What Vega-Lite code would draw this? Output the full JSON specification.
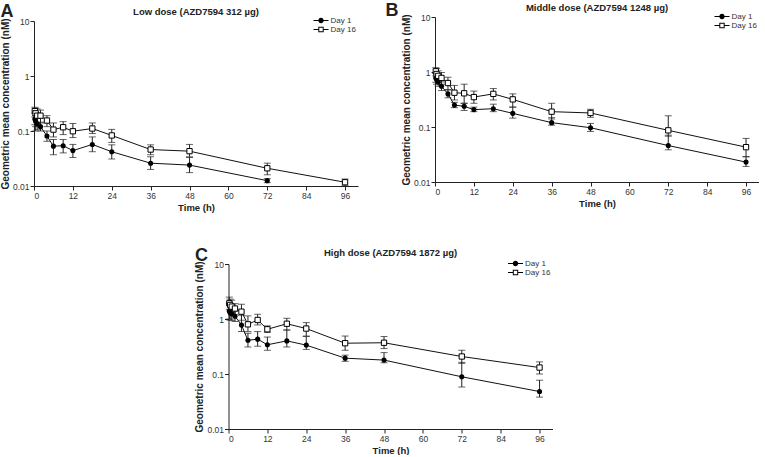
{
  "$schema": "https://vega.github.io/schema/vega-lite/v6.json",
  "padding": {"left": 0, "top": -2, "right": 0, "bottom": 0},
  "config": {
    "font": "Liberation Sans",
    "view": {"stroke": null},
    "axis": {"grid": false, "domainColor": "#222", "tickColor": "#222", "labelColor": "#333", "titleColor": "#222", "labelFontSize": 8.5, "titleFontSize": 10, "titleFontWeight": "bold", "tickSize": 4, "labelPadding": 1},
    "title": {"fontSize": 9.5, "fontWeight": "bold", "color": "#222"},
    "legend": {"labelFontSize": 8, "labelColor": "#333", "title": null, "orient": "none", "legendX": 282.5, "legendY": -5, "padding": 0, "symbolSize": 81, "labelOffset": 5, "rowPadding": 0, "symbolFillColor": "black", "symbolStrokeWidth": 0}
  },
  "datasets": {
    "pk": [
      {"p":"A","day":"Day 1","t":0.25,"v":0.165,"lo":0.13,"hi":0.21},
      {"p":"A","day":"Day 1","t":0.5,"v":0.15,"lo":0.12,"hi":0.19},
      {"p":"A","day":"Day 1","t":1,"v":0.135,"lo":0.105,"hi":0.17},
      {"p":"A","day":"Day 1","t":2,"v":0.12,"lo":0.1,"hi":0.145},
      {"p":"A","day":"Day 1","t":4,"v":0.081,"lo":0.065,"hi":0.1},
      {"p":"A","day":"Day 1","t":6,"v":0.053,"lo":0.037,"hi":0.07},
      {"p":"A","day":"Day 1","t":9,"v":0.054,"lo":0.04,"hi":0.07},
      {"p":"A","day":"Day 1","t":12,"v":0.044,"lo":0.033,"hi":0.057},
      {"p":"A","day":"Day 1","t":18,"v":0.057,"lo":0.042,"hi":0.078},
      {"p":"A","day":"Day 1","t":24,"v":0.042,"lo":0.031,"hi":0.056},
      {"p":"A","day":"Day 1","t":36,"v":0.026,"lo":0.02,"hi":0.034},
      {"p":"A","day":"Day 1","t":48,"v":0.024,"lo":0.0175,"hi":0.033},
      {"p":"A","day":"Day 1","t":72,"v":0.0125,"lo":0.0115,"hi":0.0136},
      {"p":"A","day":"Day 16","t":0.25,"v":0.23,"lo":0.18,"hi":0.27},
      {"p":"A","day":"Day 16","t":0.5,"v":0.21,"lo":0.1,"hi":0.26},
      {"p":"A","day":"Day 16","t":1,"v":0.19,"lo":0.14,"hi":0.25},
      {"p":"A","day":"Day 16","t":2,"v":0.19,"lo":0.14,"hi":0.24},
      {"p":"A","day":"Day 16","t":4,"v":0.155,"lo":0.12,"hi":0.19},
      {"p":"A","day":"Day 16","t":6,"v":0.106,"lo":0.078,"hi":0.14},
      {"p":"A","day":"Day 16","t":9,"v":0.117,"lo":0.086,"hi":0.148},
      {"p":"A","day":"Day 16","t":12,"v":0.099,"lo":0.076,"hi":0.137},
      {"p":"A","day":"Day 16","t":18,"v":0.111,"lo":0.09,"hi":0.14},
      {"p":"A","day":"Day 16","t":24,"v":0.083,"lo":0.062,"hi":0.107},
      {"p":"A","day":"Day 16","t":36,"v":0.046,"lo":0.037,"hi":0.056},
      {"p":"A","day":"Day 16","t":48,"v":0.043,"lo":0.034,"hi":0.057},
      {"p":"A","day":"Day 16","t":72,"v":0.021,"lo":0.016,"hi":0.026},
      {"p":"A","day":"Day 16","t":96,"v":0.0117,"lo":0.0101,"hi":0.0134},
      {"p":"B","day":"Day 1","t":0.25,"v":0.79,"lo":0.65,"hi":0.95},
      {"p":"B","day":"Day 1","t":0.5,"v":0.72,"lo":0.6,"hi":0.88},
      {"p":"B","day":"Day 1","t":1,"v":0.66,"lo":0.55,"hi":0.8},
      {"p":"B","day":"Day 1","t":2,"v":0.55,"lo":0.46,"hi":0.66},
      {"p":"B","day":"Day 1","t":4,"v":0.4,"lo":0.34,"hi":0.47},
      {"p":"B","day":"Day 1","t":6,"v":0.25,"lo":0.225,"hi":0.28},
      {"p":"B","day":"Day 1","t":9,"v":0.238,"lo":0.2,"hi":0.27},
      {"p":"B","day":"Day 1","t":12,"v":0.207,"lo":0.19,"hi":0.23},
      {"p":"B","day":"Day 1","t":18,"v":0.215,"lo":0.19,"hi":0.26},
      {"p":"B","day":"Day 1","t":24,"v":0.177,"lo":0.145,"hi":0.23},
      {"p":"B","day":"Day 1","t":36,"v":0.12,"lo":0.108,"hi":0.148},
      {"p":"B","day":"Day 1","t":48,"v":0.097,"lo":0.083,"hi":0.116},
      {"p":"B","day":"Day 1","t":72,"v":0.046,"lo":0.0385,"hi":0.071},
      {"p":"B","day":"Day 1","t":96,"v":0.023,"lo":0.0192,"hi":0.0286},
      {"p":"B","day":"Day 16","t":0.25,"v":1.03,"lo":0.85,"hi":1.2},
      {"p":"B","day":"Day 16","t":0.5,"v":0.92,"lo":0.75,"hi":1.15},
      {"p":"B","day":"Day 16","t":1,"v":0.85,"lo":0.7,"hi":1.05},
      {"p":"B","day":"Day 16","t":2,"v":0.78,"lo":0.6,"hi":0.98},
      {"p":"B","day":"Day 16","t":4,"v":0.63,"lo":0.48,"hi":0.8},
      {"p":"B","day":"Day 16","t":6,"v":0.42,"lo":0.31,"hi":0.57},
      {"p":"B","day":"Day 16","t":9,"v":0.41,"lo":0.27,"hi":0.6},
      {"p":"B","day":"Day 16","t":12,"v":0.35,"lo":0.27,"hi":0.45},
      {"p":"B","day":"Day 16","t":18,"v":0.4,"lo":0.31,"hi":0.5},
      {"p":"B","day":"Day 16","t":24,"v":0.318,"lo":0.23,"hi":0.4},
      {"p":"B","day":"Day 16","t":36,"v":0.19,"lo":0.14,"hi":0.27},
      {"p":"B","day":"Day 16","t":48,"v":0.18,"lo":0.15,"hi":0.21},
      {"p":"B","day":"Day 16","t":72,"v":0.087,"lo":0.068,"hi":0.16},
      {"p":"B","day":"Day 16","t":96,"v":0.043,"lo":0.029,"hi":0.062},
      {"p":"C","day":"Day 1","t":0.25,"v":1.4,"lo":1.0,"hi":1.9},
      {"p":"C","day":"Day 1","t":0.5,"v":1.3,"lo":0.95,"hi":1.75},
      {"p":"C","day":"Day 1","t":1,"v":1.24,"lo":0.95,"hi":1.6},
      {"p":"C","day":"Day 1","t":2,"v":1.12,"lo":0.9,"hi":1.4},
      {"p":"C","day":"Day 1","t":4,"v":0.78,"lo":0.59,"hi":1.17},
      {"p":"C","day":"Day 1","t":6,"v":0.41,"lo":0.31,"hi":0.55},
      {"p":"C","day":"Day 1","t":9,"v":0.43,"lo":0.32,"hi":0.59},
      {"p":"C","day":"Day 1","t":12,"v":0.34,"lo":0.27,"hi":0.47},
      {"p":"C","day":"Day 1","t":18,"v":0.4,"lo":0.31,"hi":0.63},
      {"p":"C","day":"Day 1","t":24,"v":0.335,"lo":0.28,"hi":0.48},
      {"p":"C","day":"Day 1","t":36,"v":0.194,"lo":0.17,"hi":0.22},
      {"p":"C","day":"Day 1","t":48,"v":0.179,"lo":0.16,"hi":0.245},
      {"p":"C","day":"Day 1","t":72,"v":0.089,"lo":0.058,"hi":0.163},
      {"p":"C","day":"Day 1","t":96,"v":0.048,"lo":0.038,"hi":0.077},
      {"p":"C","day":"Day 16","t":0.25,"v":1.93,"lo":1.5,"hi":2.5},
      {"p":"C","day":"Day 16","t":0.5,"v":1.8,"lo":1.4,"hi":2.3},
      {"p":"C","day":"Day 16","t":1,"v":1.68,"lo":1.3,"hi":2.2},
      {"p":"C","day":"Day 16","t":2,"v":1.55,"lo":1.2,"hi":1.9},
      {"p":"C","day":"Day 16","t":4,"v":1.36,"lo":0.95,"hi":1.85},
      {"p":"C","day":"Day 16","t":6,"v":0.8,"lo":0.59,"hi":1.14},
      {"p":"C","day":"Day 16","t":9,"v":0.96,"lo":0.78,"hi":1.22},
      {"p":"C","day":"Day 16","t":12,"v":0.65,"lo":0.57,"hi":0.75},
      {"p":"C","day":"Day 16","t":18,"v":0.82,"lo":0.63,"hi":1.03},
      {"p":"C","day":"Day 16","t":24,"v":0.67,"lo":0.49,"hi":0.86},
      {"p":"C","day":"Day 16","t":36,"v":0.363,"lo":0.27,"hi":0.49},
      {"p":"C","day":"Day 16","t":48,"v":0.37,"lo":0.29,"hi":0.48},
      {"p":"C","day":"Day 16","t":72,"v":0.208,"lo":0.156,"hi":0.27},
      {"p":"C","day":"Day 16","t":96,"v":0.131,"lo":0.1,"hi":0.166}
    ]
  },
  "data": {"name": "pk"},
  "spacing": 28,
  "center": true,
  "resolve": {"scale": {"shape": "independent"}, "legend": {"shape": "independent"}},
  "vconcat": [
    {
      "spacing": 27,
      "resolve": {"scale": {"shape": "independent"}, "legend": {"shape": "independent"}},
      "hconcat": [
        {
          "title": {"text": "A", "anchor": "start", "fontSize": 18, "offset": -18, "frame": "bounds", "dy": 5},
          "spacing": 7,
          "resolve": {"scale": {"shape": "independent"}, "legend": {"shape": "independent"}},
          "vconcat": [
            {"width": 1, "height": 1, "data": {"values": []}, "mark": "rule", "encoding": {}},
            {
              "width": 324, "height": 165,
              "title": {"text": "Low dose (AZD7594 312 µg)", "offset": 0},
              "transform": [{"filter": "datum.p === 'A'"}],
              "encoding": {
                "x": {"field": "t", "type": "quantitative", "scale": {"domain": [0, 100], "nice": false}, "axis": {"values": [0, 12, 24, 36, 48, 60, 72, 84, 96], "title": "Time (h)", "titleFontSize": 9.5, "titlePadding": 3}},
                "y": {"field": "v", "type": "quantitative", "scale": {"type": "log", "domain": [0.01, 10], "nice": false}, "title": "Geometric mean concentration (nM)", "axis": {"values": [0.01, 0.1, 1, 10], "format": "~g", "titlePadding": 2}}
              },
              "layer": [
                {"mark": {"type": "errorbar", "ticks": {"size": 7}, "color": "#222", "thickness": 1}, "encoding": {"y": {"field": "lo", "type": "quantitative", "scale": {"type": "log", "domain": [0.01, 10], "nice": false}, "title": "Geometric mean concentration (nM)"}, "y2": {"field": "hi"}}},
                {"mark": {"type": "line", "color": "#111", "strokeWidth": 1}, "encoding": {"detail": {"field": "day"}}},
                {"mark": {"type": "point", "filled": true, "fill": "black", "strokeWidth": 0, "opacity": 1, "size": 0.5}, "encoding": {
                  "shape": {"field": "day", "type": "nominal", "scale": {"domain": ["Day 1", "Day 16"], "range": ["M-1.67,-0.11 L-0.55,-0.11 L-0.55,0.11 L-1.67,0.11 Z M0.55,-0.11 L1.67,-0.11 L1.67,0.11 L0.55,0.11 Z M-0.6,0 A0.6,0.6 0 1,1 0.6,0 A0.6,0.6 0 1,1 -0.6,0 Z", "M-1.67,-0.11 L-0.6,-0.11 L-0.6,0.11 L-1.67,0.11 Z M0.6,-0.11 L1.67,-0.11 L1.67,0.11 L0.6,0.11 Z M-0.6,-0.6 L0.6,-0.6 L0.6,0.6 L-0.6,0.6 Z M-0.38,-0.38 L-0.38,0.38 L0.38,0.38 L0.38,-0.38 Z"]}}
                }},
                {"transform": [{"filter": "datum.day === 'Day 1'"}], "mark": {"type": "point", "shape": "circle", "filled": true, "color": "black", "opacity": 1, "size": 26}},
                {"transform": [{"filter": "datum.day === 'Day 16'"}], "mark": {"type": "point", "shape": "square", "fill": "white", "stroke": "black", "strokeWidth": 1, "opacity": 1, "size": 28}}
              ]
            }
          ]
        },
        {
          "title": {"text": "B", "anchor": "start", "fontSize": 18, "offset": -18, "frame": "bounds", "dx": -16, "dy": 4},
          "spacing": 3,
          "resolve": {"scale": {"shape": "independent"}, "legend": {"shape": "independent"}},
          "vconcat": [
            {"width": 1, "height": 1, "data": {"values": []}, "mark": "rule", "encoding": {}},
            {
              "width": 324, "height": 165,
              "title": {"text": "Middle dose (AZD7594 1248 µg)", "offset": 0},
              "transform": [{"filter": "datum.p === 'B'"}],
              "encoding": {
                "x": {"field": "t", "type": "quantitative", "scale": {"domain": [0, 100], "nice": false}, "axis": {"values": [0, 12, 24, 36, 48, 60, 72, 84, 96], "title": "Time (h)", "titleFontSize": 9.5, "titlePadding": 3}},
                "y": {"field": "v", "type": "quantitative", "scale": {"type": "log", "domain": [0.01, 10], "nice": false}, "title": "Geometric mean concentration (nM)", "axis": {"values": [0.01, 0.1, 1, 10], "format": "~g", "titlePadding": 2}}
              },
              "layer": [
                {"mark": {"type": "errorbar", "ticks": {"size": 7}, "color": "#222", "thickness": 1}, "encoding": {"y": {"field": "lo", "type": "quantitative", "scale": {"type": "log", "domain": [0.01, 10], "nice": false}, "title": "Geometric mean concentration (nM)"}, "y2": {"field": "hi"}}},
                {"mark": {"type": "line", "color": "#111", "strokeWidth": 1}, "encoding": {"detail": {"field": "day"}}},
                {"mark": {"type": "point", "filled": true, "fill": "black", "strokeWidth": 0, "opacity": 1, "size": 0.5}, "encoding": {
                  "shape": {"field": "day", "type": "nominal", "scale": {"domain": ["Day 1", "Day 16"], "range": ["M-1.67,-0.11 L-0.55,-0.11 L-0.55,0.11 L-1.67,0.11 Z M0.55,-0.11 L1.67,-0.11 L1.67,0.11 L0.55,0.11 Z M-0.6,0 A0.6,0.6 0 1,1 0.6,0 A0.6,0.6 0 1,1 -0.6,0 Z", "M-1.67,-0.11 L-0.6,-0.11 L-0.6,0.11 L-1.67,0.11 Z M0.6,-0.11 L1.67,-0.11 L1.67,0.11 L0.6,0.11 Z M-0.6,-0.6 L0.6,-0.6 L0.6,0.6 L-0.6,0.6 Z M-0.38,-0.38 L-0.38,0.38 L0.38,0.38 L0.38,-0.38 Z"]}}
                }},
                {"transform": [{"filter": "datum.day === 'Day 1'"}], "mark": {"type": "point", "shape": "circle", "filled": true, "color": "black", "opacity": 1, "size": 26}},
                {"transform": [{"filter": "datum.day === 'Day 16'"}], "mark": {"type": "point", "shape": "square", "fill": "white", "stroke": "black", "strokeWidth": 1, "opacity": 1, "size": 28}}
              ]
            }
          ]
        }
      ]
    },
    {
      "spacing": 0,
      "resolve": {"scale": {"shape": "independent"}, "legend": {"shape": "independent"}},
      "hconcat": [
        {
          "title": {"text": "C", "anchor": "start", "fontSize": 18, "offset": -18, "frame": "bounds", "dy": 7},
          "spacing": 6,
          "resolve": {"scale": {"shape": "independent"}, "legend": {"shape": "independent"}},
          "vconcat": [
            {"width": 1, "height": 1, "data": {"values": []}, "mark": "rule", "encoding": {}},
            {
              "width": 324, "height": 165,
              "title": {"text": "High dose (AZD7594 1872 µg)", "offset": 2},
              "transform": [{"filter": "datum.p === 'C'"}],
              "encoding": {
                "x": {"field": "t", "type": "quantitative", "scale": {"domain": [0, 100], "nice": false}, "axis": {"values": [0, 12, 24, 36, 48, 60, 72, 84, 96], "title": "Time (h)", "titleFontSize": 9.5, "titlePadding": 3}},
                "y": {"field": "v", "type": "quantitative", "scale": {"type": "log", "domain": [0.01, 10], "nice": false}, "title": "Geometric mean concentration (nM)", "axis": {"values": [0.01, 0.1, 1, 10], "format": "~g", "titlePadding": 2}}
              },
              "layer": [
                {"mark": {"type": "errorbar", "ticks": {"size": 7}, "color": "#222", "thickness": 1}, "encoding": {"y": {"field": "lo", "type": "quantitative", "scale": {"type": "log", "domain": [0.01, 10], "nice": false}, "title": "Geometric mean concentration (nM)"}, "y2": {"field": "hi"}}},
                {"mark": {"type": "line", "color": "#111", "strokeWidth": 1}, "encoding": {"detail": {"field": "day"}}},
                {"mark": {"type": "point", "filled": true, "fill": "black", "strokeWidth": 0, "opacity": 1, "size": 0.5}, "encoding": {
                  "shape": {"field": "day", "type": "nominal", "scale": {"domain": ["Day 1", "Day 16"], "range": ["M-1.67,-0.11 L-0.55,-0.11 L-0.55,0.11 L-1.67,0.11 Z M0.55,-0.11 L1.67,-0.11 L1.67,0.11 L0.55,0.11 Z M-0.6,0 A0.6,0.6 0 1,1 0.6,0 A0.6,0.6 0 1,1 -0.6,0 Z", "M-1.67,-0.11 L-0.6,-0.11 L-0.6,0.11 L-1.67,0.11 Z M0.6,-0.11 L1.67,-0.11 L1.67,0.11 L0.6,0.11 Z M-0.6,-0.6 L0.6,-0.6 L0.6,0.6 L-0.6,0.6 Z M-0.38,-0.38 L-0.38,0.38 L0.38,0.38 L0.38,-0.38 Z"]}}
                }},
                {"transform": [{"filter": "datum.day === 'Day 1'"}], "mark": {"type": "point", "shape": "circle", "filled": true, "color": "black", "opacity": 1, "size": 26}},
                {"transform": [{"filter": "datum.day === 'Day 16'"}], "mark": {"type": "point", "shape": "square", "fill": "white", "stroke": "black", "strokeWidth": 1, "opacity": 1, "size": 28}}
              ]
            }
          ]
        },
        {"width": 12, "height": 10, "data": {"values": []}, "mark": "rule", "encoding": {}}
      ]
    }
  ]
}
